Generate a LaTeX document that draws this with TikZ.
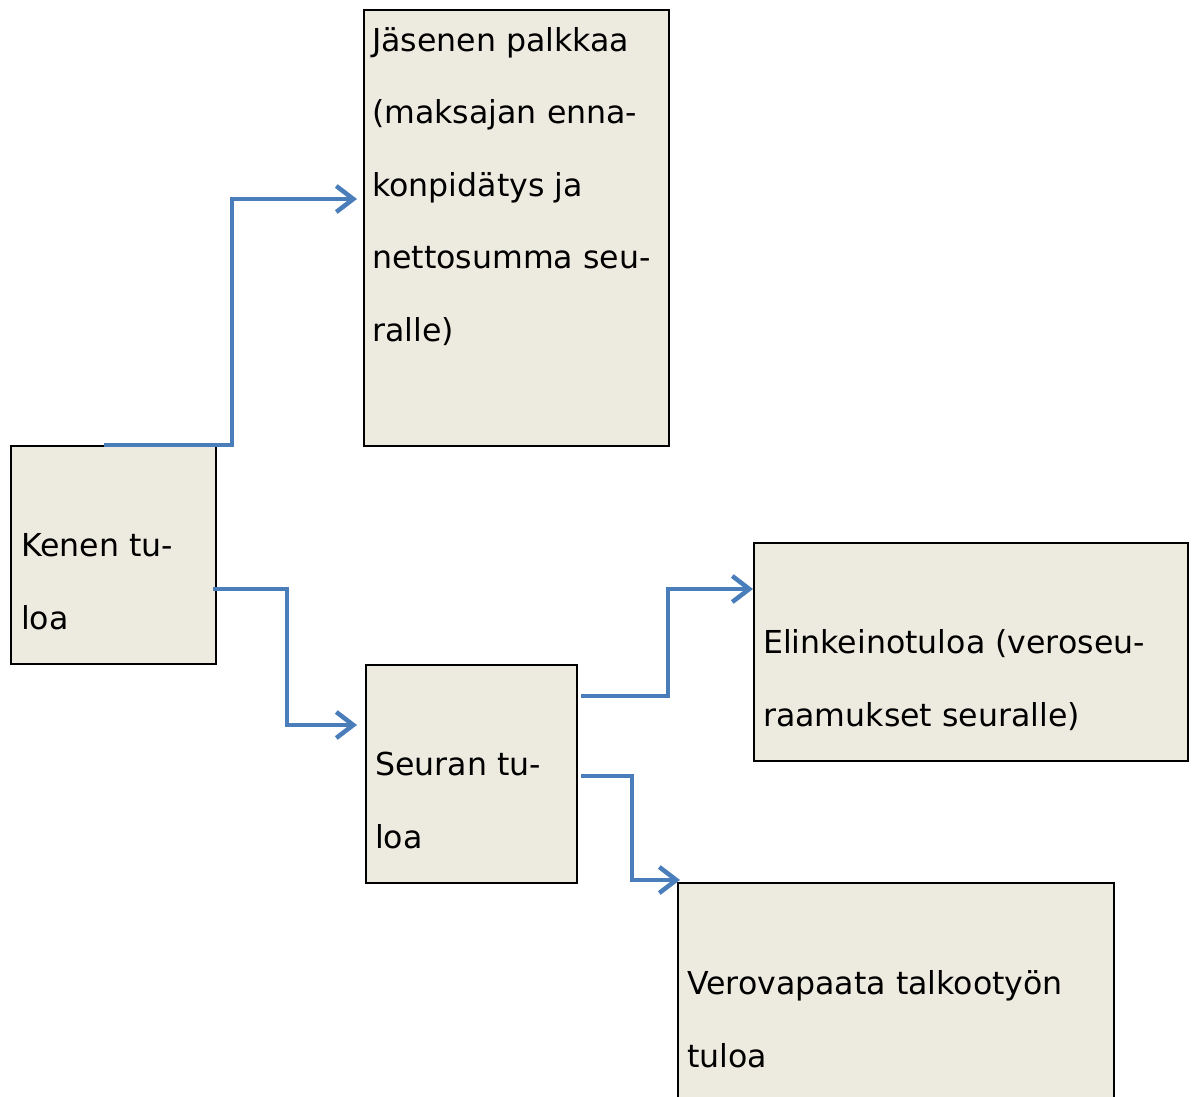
\documentclass[tikz,border=0pt]{standalone}
\usepackage{fontspec}
\setmainfont{DejaVu Sans}
\usepackage{tikz}
\usetikzlibrary{positioning,calc,arrows.meta}

\definecolor{boxfill}{HTML}{EDEBE0}
\definecolor{linkblue}{HTML}{4A7EBB}

\begin{document}
\begin{tikzpicture}[x=1pt, y=-1pt,
		box/.style={rectangle, draw=black, line width=2pt, fill=boxfill, inner sep=0pt},
		boxtext/.style={align=left, anchor=base west, inner sep=0pt, font={\fontsize{31.6pt}{72.5pt}\selectfont}},
		link/.style={draw=linkblue, line width=4.5pt, -{Straight Barb[length=17pt, width=26pt]}}]
		\useasboundingbox (0,0) rectangle (1195,1096);
		\node[box, minimum width=205pt, minimum height=218pt] (kenen) at (113.5,555) {};
		\node[box, minimum width=305pt, minimum height=436pt] (jasenen) at (516.5,228) {};
		\node[box, minimum width=211pt, minimum height=218pt] (seuran) at (471.5,774) {};
		\node[box, minimum width=434pt, minimum height=218pt] (elinkeino) at (971,652) {};
		\node[box, minimum width=436pt, minimum height=218pt] (verovapaa) at (896,992) {};
		\node[boxtext] (kenen-text) at ([shift={(11,184)}]kenen.north west) {Kenen tu-\\loa};
		\node[boxtext] (jasenen-text) at ([shift={(9,332)}]jasenen.north west) {Jäsenen palkkaa\\(maksajan enna-\\konpidätys ja\\nettosumma seu-\\ralle)};
		\node[boxtext] (seuran-text) at ([shift={(10,184)}]seuran.north west) {Seuran tu-\\loa};
		\node[boxtext] (elinkeino-text) at ([shift={(10,184)}]elinkeino.north west) {Elinkeinotuloa (veroseu-\\raamukset seuralle)};
		\node[boxtext] (verovapaa-text) at ([shift={(10,185)}]verovapaa.north west) {Verovapaata talkootyön\\tuloa};
		\draw[link] ([shift={(-9.5,0)}]kenen.north) -- ++(128,0) |- ([shift={(-6,-29)}]jasenen.west);
		\draw[link] ([shift={(-4,34)}]kenen.east) -- ++(74,0) |- ([shift={(-8,-49)}]seuran.west);
		\draw[link] ([shift={(3,-78)}]seuran.east) -- ++(87,0) |- ([shift={(0,-63)}]elinkeino.west);
		\draw[link] ([shift={(3,2)}]seuran.east) -- ++(51,0) |- ([shift={(3,-2)}]verovapaa.north west);
	\end{tikzpicture}
\end{document}
